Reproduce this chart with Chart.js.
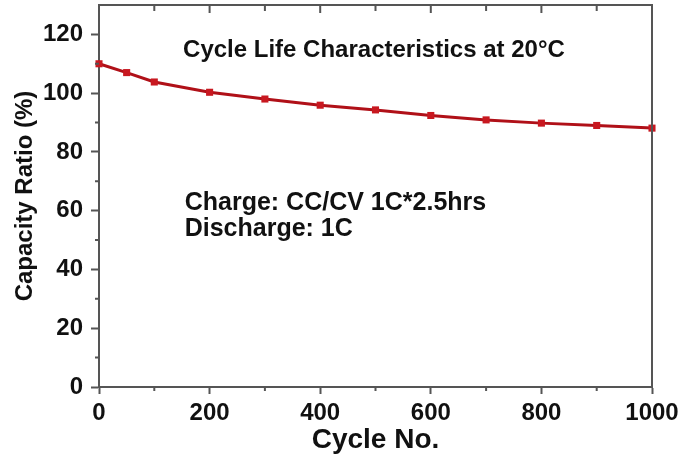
<!DOCTYPE html>
<html>
<head>
<meta charset="utf-8">
<script src="https://cdn.jsdelivr.net/npm/chart.js@4"></script>
<style>
  body { margin: 0; background: #fff; }
</style>
</head>
<body>
<canvas id="chart" width="696" height="459"></canvas>
<script>
// cycle life data
const cycles = [0, 50, 100, 200, 300, 400, 500, 600, 700, 800, 900, 1000];
const capacity = [110, 107, 103.8, 100.3, 98, 95.9, 94.3, 92.4, 90.9, 89.8, 89, 88.1];

const xMinorTicks = [100, 300, 500, 700, 900];
const yMinorTicks = [10, 30, 50, 70, 90, 110];
const xTopTicks = [100, 200, 300, 400, 500, 600, 700, 800, 900];

const plotTitle = 'Cycle Life Characteristics at 20°C';
const noteLines = ['Charge: CC/CV 1C*2.5hrs', 'Discharge: 1C'];

const FONT = '"Liberation Sans", Arial, sans-serif';
const AXIS = '#555555';
const TEXT = '#111111';

// minor ticks, top/right frame
const framePlugin = {
    id: 'frame',
    afterDraw(chart) {
        const { ctx, chartArea: a, scales } = chart;
        const x = scales.x, y = scales.y;
        ctx.save();
        ctx.strokeStyle = AXIS;
        ctx.lineWidth = 2;
        ctx.beginPath();
        ctx.moveTo(a.left, a.top);
        ctx.lineTo(a.right, a.top);
        ctx.lineTo(a.right, a.bottom);
        ctx.stroke();

        ctx.beginPath();
        xMinorTicks.forEach(v => {
            const px = x.getPixelForValue(v);
            ctx.moveTo(px, a.bottom);
            ctx.lineTo(px, a.bottom + 4);
        });
        yMinorTicks.forEach(v => {
            const py = y.getPixelForValue(v);
            ctx.moveTo(a.left, py);
            ctx.lineTo(a.left - 4, py);
        });
        xTopTicks.forEach(v => {
            const px = x.getPixelForValue(v);
            ctx.moveTo(px, a.top);
            ctx.lineTo(px, a.top + (v % 200 === 0 ? 8 : 6));
        });
        ctx.stroke();
        ctx.restore();
    }
};

// text inside the plot, anchored on data coordinates
const notesPlugin = {
    id: 'notes',
    afterDraw(chart) {
        const { ctx, scales } = chart;
        const x = scales.x, y = scales.y;
        ctx.save();
        ctx.fillStyle = TEXT;
        ctx.textBaseline = 'middle';
        ctx.textAlign = 'left';
        ctx.font = 'bold 24px ' + FONT;
        ctx.fillText(plotTitle, x.getPixelForValue(152), y.getPixelForValue(114.5));
        ctx.font = 'bold 25px ' + FONT;
        noteLines.forEach((line, i) => {
            ctx.fillText(line, x.getPixelForValue(155), y.getPixelForValue(62.5 - i * 8.8));
        });
        ctx.restore();
    }
};

new Chart(document.getElementById('chart'), {
    type: 'line',
    data: {
        datasets: [{
            data: cycles.map((c, i) => ({ x: c, y: capacity[i] })),
            borderColor: '#b01018',
            borderWidth: 3,
            backgroundColor: '#c81820',
            pointStyle: 'rect',
            pointRadius: 5,
            pointBorderWidth: 0,
            tension: 0,
            clip: false
        }]
    },
    options: {
        responsive: false,
        animation: false,
        layout: { padding: { left: 0, right: 44, top: 5, bottom: 0 } },
        plugins: {
            legend: { display: false },
            tooltip: { enabled: false }
        },
        scales: {
            x: {
                type: 'linear',
                min: 0,
                max: 1000,
                afterFit: s => { s.height = 72; },
                ticks: {
                    stepSize: 200,
                    includeBounds: false,
                    padding: 5,
                    maxRotation: 0,
                    color: TEXT,
                    font: { family: FONT, size: 24, weight: 'bold' },
                    callback: v => String(v)
                },
                grid: {
                    drawOnChartArea: false,
                    drawTicks: true,
                    tickLength: 7,
                    tickColor: AXIS,
                    tickWidth: 2
                },
                border: { display: true, color: AXIS, width: 2 },
                title: {
                    display: true,
                    text: 'Cycle No.',
                    color: TEXT,
                    font: { family: FONT, size: 28, weight: 'bold' },
                    padding: { top: 0, bottom: 2 }
                }
            },
            y: {
                min: 0,
                max: 130,
                afterFit: s => {
                    s.width = 99;
                    s.paddingTop = 0;
                    s.paddingBottom = 0;
                },
                ticks: {
                    stepSize: 20,
                    includeBounds: false,
                    padding: 8,
                    color: TEXT,
                    font: { family: FONT, size: 24, weight: 'bold' },
                    callback: v => String(v)
                },
                grid: {
                    drawOnChartArea: false,
                    drawTicks: true,
                    tickLength: 8,
                    tickColor: AXIS,
                    tickWidth: 2
                },
                border: { display: true, color: AXIS, width: 2 },
                title: {
                    display: true,
                    text: 'Capacity Ratio (%)',
                    color: TEXT,
                    font: { family: FONT, size: 24, weight: 'bold' },
                    padding: { top: 11, bottom: 0 }
                }
            }
        }
    },
    plugins: [framePlugin, notesPlugin]
});
</script>
</body>
</html>
